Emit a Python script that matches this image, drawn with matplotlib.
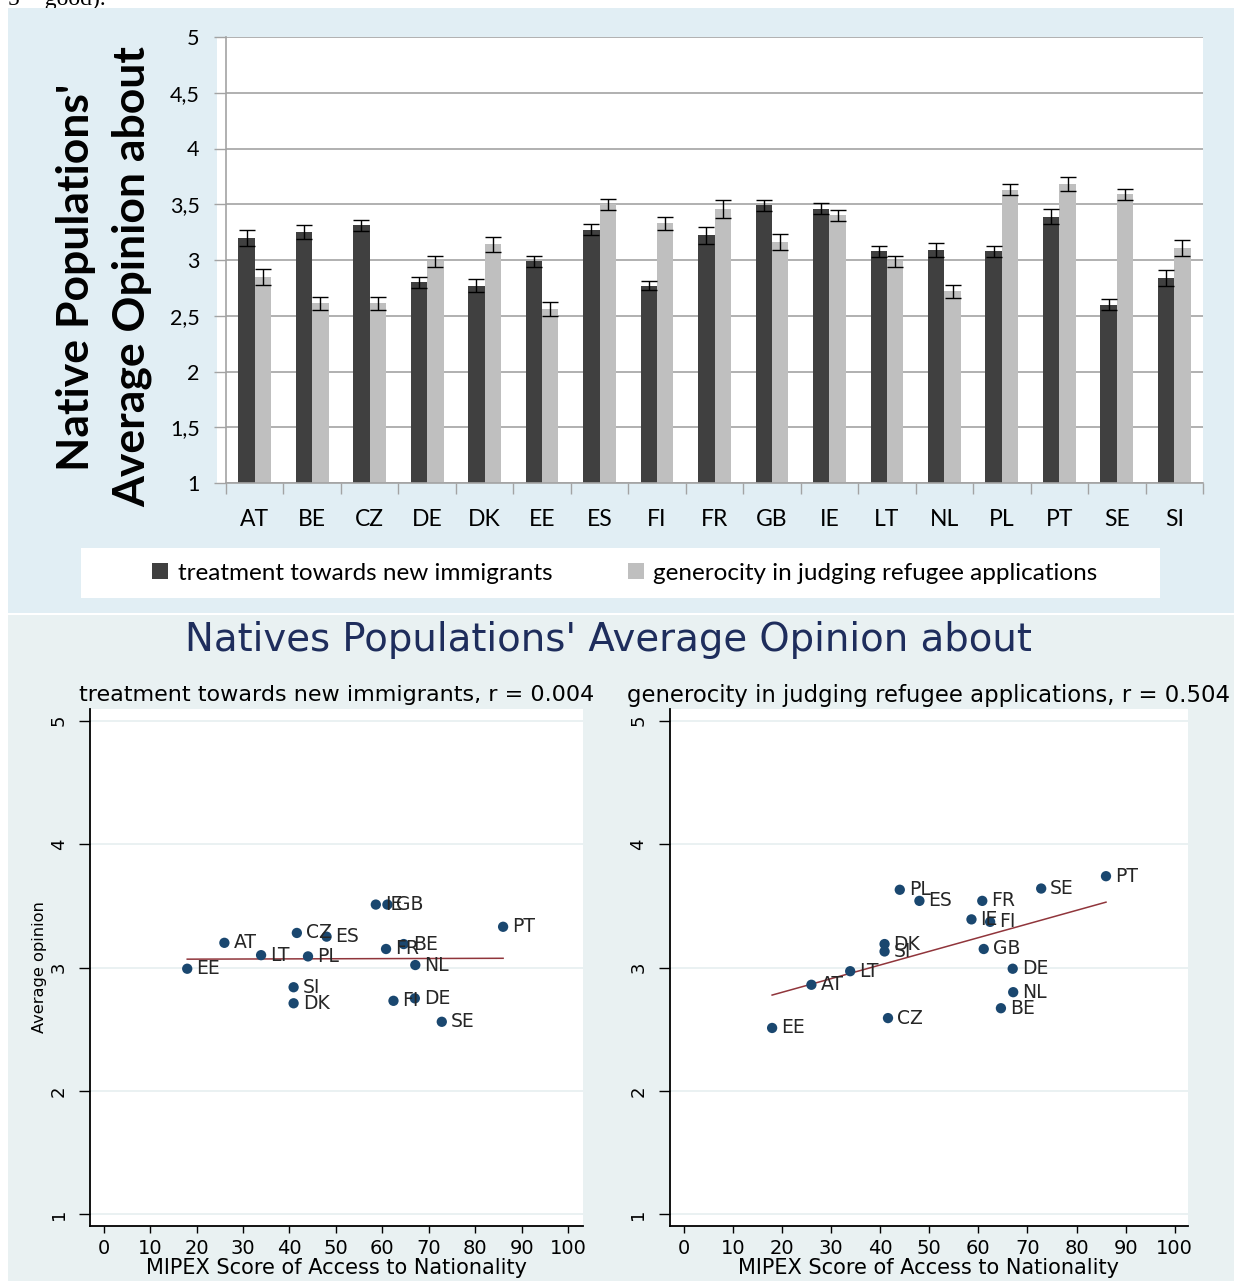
import numpy as np
import matplotlib.pyplot as plt
from matplotlib.patches import Rectangle, Patch

# country averages (bar chart, with error bars)
countries = ["AT", "BE", "CZ", "DE", "DK", "EE", "ES", "FI", "FR",
             "GB", "IE", "LT", "NL", "PL", "PT", "SE", "SI"]
treatment = [3.20, 3.25, 3.31, 2.80, 2.77, 2.99, 3.27, 2.77, 3.22,
             3.49, 3.46, 3.08, 3.09, 3.08, 3.39, 2.60, 2.84]
treatment_err = [0.07, 0.06, 0.05, 0.05, 0.06, 0.05, 0.05, 0.04, 0.08,
                 0.05, 0.05, 0.05, 0.06, 0.05, 0.07, 0.05, 0.07]
generosity = [2.85, 2.61, 2.61, 2.99, 3.14, 2.56, 3.50, 3.33, 3.46,
              3.16, 3.40, 2.99, 2.72, 3.63, 3.68, 3.59, 3.11]
generosity_err = [0.07, 0.06, 0.06, 0.05, 0.07, 0.06, 0.05, 0.06, 0.08,
                  0.07, 0.05, 0.05, 0.06, 0.05, 0.06, 0.05, 0.07]

# scatter data, same country order
mipex = [26.0, 64.6, 41.6, 67.0, 40.9, 18.0, 48.0, 62.4, 60.8,
         61.1, 58.6, 33.9, 67.1, 44.0, 86.0, 72.8, 40.9]
opinion_treat = [3.20, 3.19, 3.28, 2.75, 2.71, 2.99, 3.25, 2.73, 3.15,
                 3.51, 3.51, 3.10, 3.02, 3.09, 3.33, 2.56, 2.84]
opinion_gen = [2.86, 2.67, 2.59, 2.99, 3.19, 2.51, 3.54, 3.37, 3.54,
               3.15, 3.39, 2.97, 2.80, 3.63, 3.74, 3.64, 3.13]

W, H = 1234, 1281
fig = plt.figure(figsize=(W / 100, H / 100), dpi=100)


def px_axes(l, t, r, b):
    return fig.add_axes([l / W, 1 - b / H, (r - l) / W, (b - t) / H])


def px_rect(l, t, r, b, color):
    fig.patches.append(Rectangle((l / W, 1 - b / H), (r - l) / W, (b - t) / H,
                                 transform=fig.transFigure, facecolor=color,
                                 edgecolor='none', zorder=-10))


# panel backgrounds
px_rect(8, 8, W, 613, '#e1eef4')
px_rect(8, 615, W, H, '#e9f1f2')
px_rect(217, 37, 226, 483, 'white')
px_rect(81, 548, 1160, 598, 'white')

fig.text(8 / W, 1 - 5 / H, "5 = good).", family='Liberation Serif',
         fontsize=17, va='baseline', ha='left', zorder=-20)

# ---- bar chart ----
dark, light, grid_c = '#404040', '#bfbfbf', '#a3a3a3'
ax = px_axes(226, 37, 1203, 483)
ax.set_facecolor('white')
x = np.arange(len(countries))
w = 0.285
ax.bar(x - w / 2, treatment, w, color=dark, zorder=2)
ax.bar(x + w / 2, generosity, w, color=light, zorder=2)
ax.errorbar(x - w / 2, treatment, yerr=treatment_err, fmt='none',
            ecolor='black', elinewidth=1, capsize=6, capthick=1, zorder=3)
ax.errorbar(x + w / 2, generosity, yerr=generosity_err, fmt='none',
            ecolor='black', elinewidth=1, capsize=6, capthick=1, zorder=3)
ax.set_xlim(-0.5, len(countries) - 0.5)
ax.set_ylim(1, 5)
yt = np.arange(1, 5.01, 0.5)
ax.set_yticks(yt)
ax.set_yticklabels([f"{v:g}".replace('.', ',') for v in yt],
                   family='Lato', fontsize=15.5)
ax.set_xticks(x)
ax.set_xticklabels(countries, family='Lato', fontsize=16.5)
ax.set_xticks(np.arange(-0.5, len(countries), 1), minor=True)
ax.tick_params(axis='x', which='major', length=0, pad=19)
ax.tick_params(axis='x', which='minor', length=8, color=grid_c, width=1)
ax.tick_params(axis='y', length=9, color=grid_c, width=1, pad=10)
ax.yaxis.grid(True, color=grid_c, lw=1.2)
ax.set_axisbelow(True)
for s in ['top', 'right']:
    ax.spines[s].set_visible(False)
for s in ['left', 'bottom']:
    ax.spines[s].set_color(grid_c)
    ax.spines[s].set_linewidth(1.2)

fig.text(104 / W, 1 - 277 / H, "Native Populations'\nAverage Opinion about",
         rotation=90, ha='center', va='center', family='Lato',
         fontweight='bold', fontsize=32, linespacing=1.48)

fig.legend([Patch(facecolor=dark), Patch(facecolor=light)],
           ["treatment towards new immigrants",
            "generocity in judging refugee applications"],
           loc='center', bbox_to_anchor=(625 / W, 1 - 573 / H), ncol=2,
           frameon=False, prop={'family': 'Lato', 'size': 17.5},
           handlelength=0.65, handleheight=0.65, handletextpad=0.4,
           columnspacing=3.1)

# ---- scatter plots ----
navy, maroon = '#1a476f', '#90353b'
fig.text(608 / W, 1 - 640 / H, "Natives Populations' Average Opinion about",
         ha='center', va='center', fontsize=27.8, color='#1e2d5c')

panels = [
    ((90, 709, 583, 1226), (-2.93, 103.2), opinion_treat,
     "treatment towards new immigrants, r = 0.004", "Average opinion", 16),
    ((669.5, 709, 1188, 1226), (-2.9, 102.7), opinion_gen,
     "generocity in judging refugee applications, r = 0.504", None, 16.35),
]
for box, xlim, yvals, title, ylabel, tsize in panels:
    sax = px_axes(*box)
    sax.set_facecolor('white')
    sax.scatter(mipex, yvals, s=55, color=navy, edgecolors='none', zorder=3)
    for c, xv, yv in zip(countries, mipex, yvals):
        sax.annotate(c, (xv, yv), xytext=(6.5, 0), textcoords='offset points',
                     ha='left', va='center', fontsize=13.5, color='#262626')
    slope, icpt = np.polyfit(mipex, yvals, 1)
    xs = np.array([min(mipex), max(mipex)])
    sax.plot(xs, slope * xs + icpt, color=maroon, lw=1.1, zorder=2)
    sax.set_xlim(*xlim)
    sax.set_ylim(0.905, 5.095)
    sax.set_xticks(np.arange(0, 101, 10))
    sax.set_yticks([1, 2, 3, 4, 5])
    sax.set_yticklabels(['1', '2', '3', '4', '5'], rotation=90, va='center')
    sax.tick_params(axis='x', length=5, width=1, pad=4, labelsize=14)
    sax.tick_params(axis='y', length=8, width=1, pad=8, labelsize=13)
    sax.yaxis.grid(True, color='#e6eff0', lw=1.2)
    sax.set_axisbelow(True)
    for s in ['top', 'right']:
        sax.spines[s].set_visible(False)
    for s in ['left', 'bottom']:
        sax.spines[s].set_linewidth(1.3)
    sax.set_xlabel("MIPEX Score of Access to Nationality", fontsize=15,
                   labelpad=0)
    if ylabel:
        sax.set_ylabel(ylabel, fontsize=11.7, labelpad=2)
    sax.text(0.5, 1.027, title, transform=sax.transAxes, ha='center',
             va='center', fontsize=tsize)

fig.savefig("out.png", dpi=100)
